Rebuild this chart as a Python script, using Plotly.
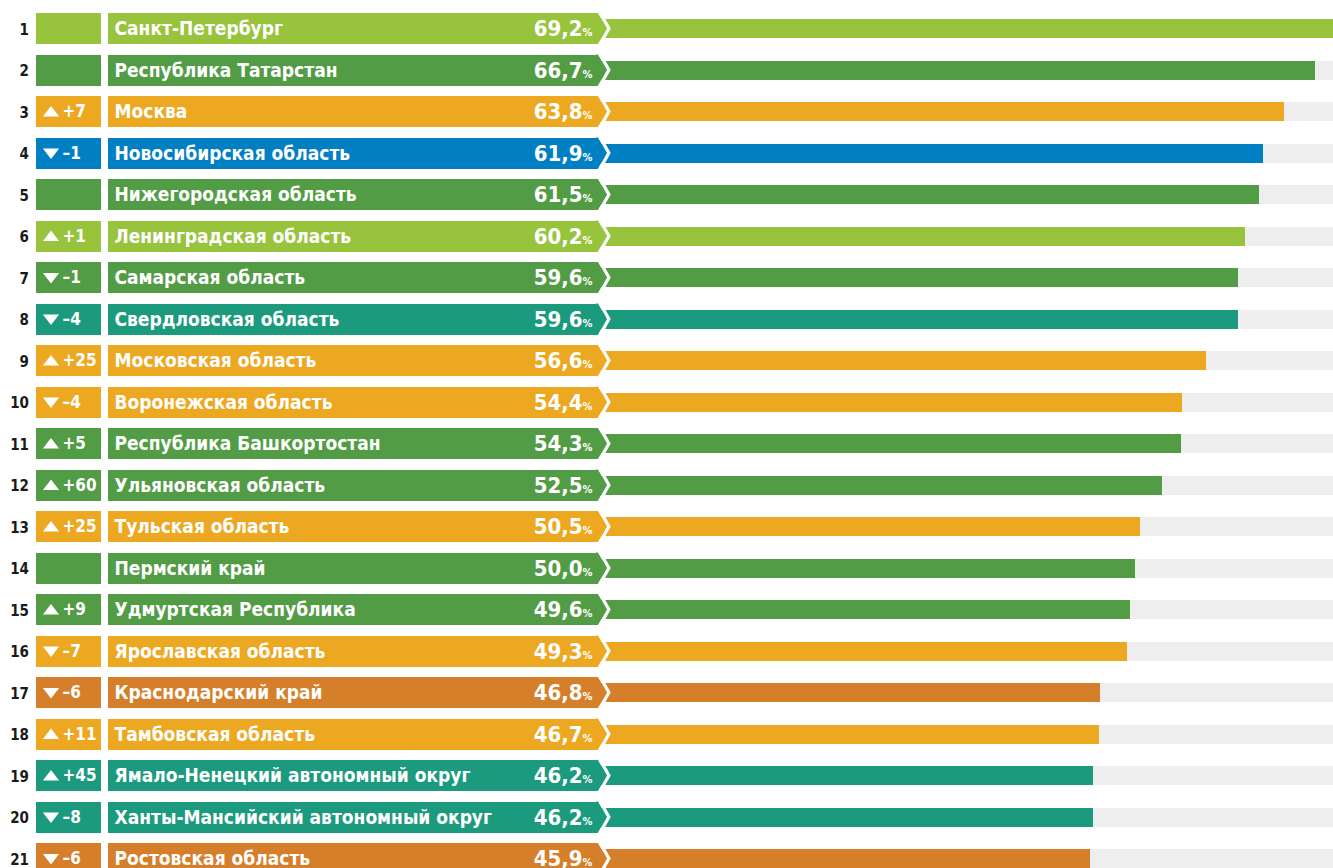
import plotly.graph_objects as go

# ---------------- data ----------------
ranks = list(range(1, 22))
regions = [
    "Санкт-Петербург", "Республика Татарстан", "Москва", "Новосибирская область",
    "Нижегородская область", "Ленинградская область", "Самарская область",
    "Свердловская область", "Московская область", "Воронежская область",
    "Республика Башкортостан", "Ульяновская область", "Тульская область",
    "Пермский край", "Удмуртская Республика", "Ярославская область",
    "Краснодарский край", "Тамбовская область", "Ямало-Ненецкий автономный округ",
    "Ханты-Мансийский автономный округ", "Ростовская область",
]
values = [69.2, 66.7, 63.8, 61.9, 61.5, 60.2, 59.6, 59.6, 56.6, 54.4, 54.3,
          52.5, 50.5, 50.0, 49.6, 49.3, 46.8, 46.7, 46.2, 46.2, 45.9]
changes = [None, None, 7, -1, None, 1, -1, -4, 25, -4, 5, 60, 25, None, 9, -7,
           -6, 11, 45, -8, -6]
groups = ["lime", "green", "amber", "blue", "green", "lime", "green", "teal",
          "amber", "amber", "green", "green", "amber", "green", "green", "amber",
          "rust", "amber", "teal", "teal", "rust"]

# ---------------- style ----------------
PALETTE = {
    "lime": "#98c33d",
    "green": "#529c45",
    "amber": "#eda822",
    "blue": "#0080c2",
    "teal": "#1c9a7e",
    "rust": "#d67f2a",
}
TRACK = "#eeeeee"
FONT = "DejaVu Sans Condensed, Liberation Sans Narrow, DejaVu Sans, sans-serif"

W, H = 1333, 868
ROW0_PX, ROW_PITCH = 28.5, 41.5          # centre of row 1, row pitch (px)
ZERO_PX, PX_PER_PCT = 593.0, 10.83        # where 0 % sits, px per percent
BOX_H, BAR_H = 31 / ROW_PITCH, 19 / ROW_PITCH
BADGE_X0, BADGE_X1 = 36.0, 101.0
LABEL_X0, LABEL_X1, TIP_X = 107.5, 598.0, 607.0

colors = [PALETTE[g] for g in groups]


def px_rows(p):
    """vertical pixel nudge expressed in row units (y axis is reversed)"""
    return p / ROW_PITCH


def fmt_value(v):
    return f"{v:.1f}".replace(".", ",") + "<span style='font-size:11px'>%</span>"


def fmt_change(c):
    if c is None:
        return ""
    return f"+{c}" if c > 0 else f"–{abs(c)}"


fig = go.Figure()

# ---- main bars (percent axis) ----
fig.add_trace(go.Bar(
    y=ranks, x=[100] * len(ranks), orientation="h", width=BAR_H,
    marker=dict(color=TRACK, line=dict(width=0)), hoverinfo="skip",
    showlegend=False))
fig.add_trace(go.Bar(
    y=ranks, x=values, orientation="h", width=BAR_H,
    marker=dict(color=colors, line=dict(width=0)), hoverinfo="skip",
    showlegend=False))

# ---- overlay: badges, label boxes, chevrons, texts ----
fig.add_trace(go.Bar(
    y=ranks, x=[BADGE_X1 - BADGE_X0] * len(ranks), base=[BADGE_X0] * len(ranks),
    orientation="h", width=BOX_H, xaxis="x2",
    marker=dict(color=colors, line=dict(width=0)), hoverinfo="skip",
    showlegend=False))
fig.add_trace(go.Bar(
    y=ranks, x=[LABEL_X1 - LABEL_X0] * len(ranks), base=[LABEL_X0] * len(ranks),
    orientation="h", width=BOX_H, xaxis="x2",
    marker=dict(color=colors, line=dict(width=0)), hoverinfo="skip",
    showlegend=False))

# chevron tips grouped by colour
for g, col in PALETTE.items():
    xs, ys = [], []
    for r, gg in zip(ranks, groups):
        if gg != g:
            continue
        xs += [LABEL_X1 - 2, LABEL_X1, TIP_X, LABEL_X1, LABEL_X1 - 2, None]
        ys += [r - BOX_H / 2, r - BOX_H / 2, r, r + BOX_H / 2, r + BOX_H / 2, None]
    if xs:
        fig.add_trace(go.Scatter(
            x=xs, y=ys, xaxis="x2", mode="lines", fill="toself",
            fillcolor=col, line=dict(width=0, color=col),
            hoverinfo="skip", showlegend=False))

# white outline along the chevron edge (creates the notch in the bars)
wx, wy = [], []
for r in ranks:
    wx += [LABEL_X1 + 1.7, TIP_X + 1.9, LABEL_X1 + 1.7, None]
    wy += [r - BOX_H / 2 - 0.02, r, r + BOX_H / 2 + 0.02, None]
fig.add_trace(go.Scatter(
    x=wx, y=wy, xaxis="x2", mode="lines",
    line=dict(width=3.2, color="white"), hoverinfo="skip", showlegend=False))

# rank numbers
fig.add_trace(go.Scatter(
    x=[29] * len(ranks), y=[r + px_rows(2.5) for r in ranks], xaxis="x2",
    mode="text", text=[str(r) for r in ranks], textposition="middle left",
    textfont=dict(family=FONT, size=15, color="#1a1a1a", weight=700),
    hoverinfo="skip", showlegend=False))

# change arrows (markers)
up_rows = [r for r, c in zip(ranks, changes) if c is not None and c > 0]
down_rows = [r for r, c in zip(ranks, changes) if c is not None and c < 0]
fig.add_trace(go.Scatter(
    x=[51] * len(up_rows), y=[r + px_rows(1.5) for r in up_rows], xaxis="x2",
    mode="markers", marker=dict(symbol="triangle-up", size=14, color="white",
                                line=dict(width=0)),
    hoverinfo="skip", showlegend=False))
fig.add_trace(go.Scatter(
    x=[51] * len(down_rows), y=[r - px_rows(1) for r in down_rows], xaxis="x2",
    mode="markers", marker=dict(symbol="triangle-down", size=14, color="white",
                                line=dict(width=0)),
    hoverinfo="skip", showlegend=False))

# change numbers
fig.add_trace(go.Scatter(
    x=[62.5] * len(ranks), y=[r + px_rows(1.5) for r in ranks], xaxis="x2",
    mode="text", text=[fmt_change(c) for c in changes],
    textposition="middle right",
    textfont=dict(family=FONT, size=17, color="white", weight=700),
    hoverinfo="skip", showlegend=False))
# region names
fig.add_trace(go.Scatter(
    x=[114.5] * len(ranks), y=[r + px_rows(2) for r in ranks], xaxis="x2",
    mode="text", text=regions, textposition="middle right",
    textfont=dict(family=FONT, size=19, color="white", weight=700),
    hoverinfo="skip", showlegend=False))
# values
fig.add_trace(go.Scatter(
    x=[592.5] * len(ranks), y=[r + px_rows(2) for r in ranks], xaxis="x2",
    mode="text", text=[fmt_value(v) for v in values],
    textposition="middle left",
    textfont=dict(family=FONT, size=22, color="white", weight=700),
    hoverinfo="skip", showlegend=False))

y_top = 1 - ROW0_PX / ROW_PITCH
y_bot = 1 + (H - ROW0_PX) / ROW_PITCH

fig.update_layout(
    width=W, height=H, autosize=False,
    margin=dict(l=0, r=0, t=0, b=0, pad=0),
    paper_bgcolor="white", plot_bgcolor="white",
    barmode="overlay", bargap=0,
    showlegend=False,
    xaxis=dict(range=[-ZERO_PX / PX_PER_PCT, (W - ZERO_PX) / PX_PER_PCT],
               domain=[0, 1], visible=False, fixedrange=True),
    xaxis2=dict(range=[0, W], domain=[0, 1], overlaying="x", anchor="y",
                visible=False, fixedrange=True),
    yaxis=dict(range=[y_bot, y_top], domain=[0, 1], visible=False,
               fixedrange=True),
    font=dict(family=FONT),
)

fig.write_html(
    "out.html",
    config={"displayModeBar": False},
    post_script=(
        "document.documentElement.style.margin='0';"
        "document.documentElement.style.overflow='hidden';"
        "document.body.style.margin='0';"
        "document.body.style.overflow='hidden';"
    ),
)
